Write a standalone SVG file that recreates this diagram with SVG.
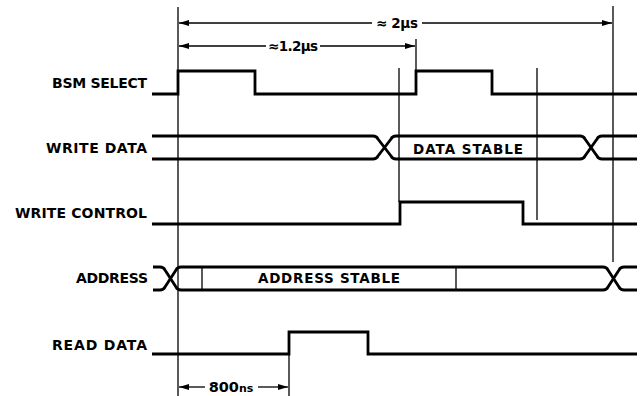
<svg xmlns="http://www.w3.org/2000/svg" width="644" height="396" viewBox="0 0 644 396">
<defs>
<marker id="ah" viewBox="0 0 10 6" refX="10" refY="3" markerWidth="10" markerHeight="6" markerUnits="userSpaceOnUse" orient="auto-start-reverse">
<path d="M0,0 L10,3 L0,6 Z" fill="#000"/>
</marker>
<style>
.sig{fill:none;stroke:#000;stroke-width:2.8;stroke-linejoin:miter}
.thin{fill:none;stroke:#000;stroke-width:1.3}
.lbl{font-family:"DejaVu Sans","Liberation Sans",sans-serif;font-weight:bold;font-size:14px;fill:#000;text-anchor:end}
.in{font-family:"DejaVu Sans","Liberation Sans",sans-serif;font-weight:bold;font-size:13.5px;fill:#000;text-anchor:middle}
.dim{font-family:"DejaVu Sans","Liberation Sans",sans-serif;font-weight:bold;font-size:13.5px;fill:#000;text-anchor:middle}
</style>
</defs>
<rect width="644" height="396" fill="#fff"/>

<g id="connectors">
<line class="thin" x1="178" y1="7" x2="178" y2="396"/>
<line class="thin" x1="613" y1="6" x2="613" y2="262"/>
<line class="thin" x1="416" y1="39" x2="416" y2="71"/>
<line class="thin" x1="399" y1="68" x2="399" y2="202"/>
<line class="thin" x1="537" y1="68" x2="537" y2="220"/>
<line class="thin" x1="289" y1="332" x2="289" y2="396"/>
<line class="thin" x1="202" y1="267" x2="202" y2="290"/>
<line class="thin" x1="456" y1="267" x2="456" y2="290"/>
<line class="thin" x1="372" y1="23" x2="179" y2="23" marker-end="url(#ah)"/>
<line class="thin" x1="422" y1="23" x2="612" y2="23" marker-end="url(#ah)"/>
<text class="dim" x="397" y="28" textLength="42">≈ 2µs</text>
<line class="thin" x1="266" y1="46" x2="179" y2="46" marker-end="url(#ah)"/>
<line class="thin" x1="320" y1="46" x2="415" y2="46" marker-end="url(#ah)"/>
<text class="dim" x="293" y="51" textLength="50">≈1.2µs</text>
<line class="thin" x1="205" y1="387" x2="179" y2="387" marker-end="url(#ah)"/>
<line class="thin" x1="258" y1="387" x2="288" y2="387" marker-end="url(#ah)"/>
<text class="dim" x="231" y="392"><tspan font-size="14.5">800</tspan><tspan font-size="11">ns</tspan></text>
</g>

<g id="bsm-select">
<text class="lbl" x="147" y="88" textLength="95">BSM SELECT</text>
<path class="sig" d="M152,94 H178 V71 H255 V94 H416 V71 H492 V94 H637"/>
</g>

<g id="write-data">
<text class="lbl" x="147" y="153" textLength="101">WRITE DATA</text>
<path class="sig" d="M152,136 H373 C376,136 377,137 378,139 L391,156 C392,158 393,159 396,159 H580 C583,159 584,158 585,156 L597,139 C598,137 599,136 602,136 H637"/>
<path class="sig" d="M152,159 H373 C376,159 377,158 378,156 L391,139 C392,137 393,136 396,136 H580 C583,136 584,137 585,139 L597,156 C598,158 599,159 602,159 H637"/>
<text class="in" x="468" y="153.5" textLength="110">DATA STABLE</text>
</g>

<g id="write-control">
<text class="lbl" x="147" y="218" textLength="132">WRITE CONTROL</text>
<path class="sig" d="M152,224 H400 V202 H523 V224 H637"/>
</g>

<g id="address">
<text class="lbl" x="148" y="283" textLength="72">ADDRESS</text>
<path class="sig" d="M153,267 H160 C163,267 164,268 165,270 L176,287 C177,289 178,290 181,290 H603 C606,290 607,289 608,287 L619,270 C620,268 621,267 624,267 H637"/>
<path class="sig" d="M153,290 H160 C163,290 164,289 165,287 L176,270 C177,268 178,267 181,267 H603 C606,267 607,268 608,270 L619,287 C620,289 621,290 624,290 H637"/>
<text class="in" x="329" y="283" textLength="142">ADDRESS STABLE</text>
</g>

<g id="read-data">
<text class="lbl" x="147" y="350" textLength="95">READ DATA</text>
<path class="sig" d="M152,354 H289 V332 H368 V354 H637"/>
</g>
</svg>
